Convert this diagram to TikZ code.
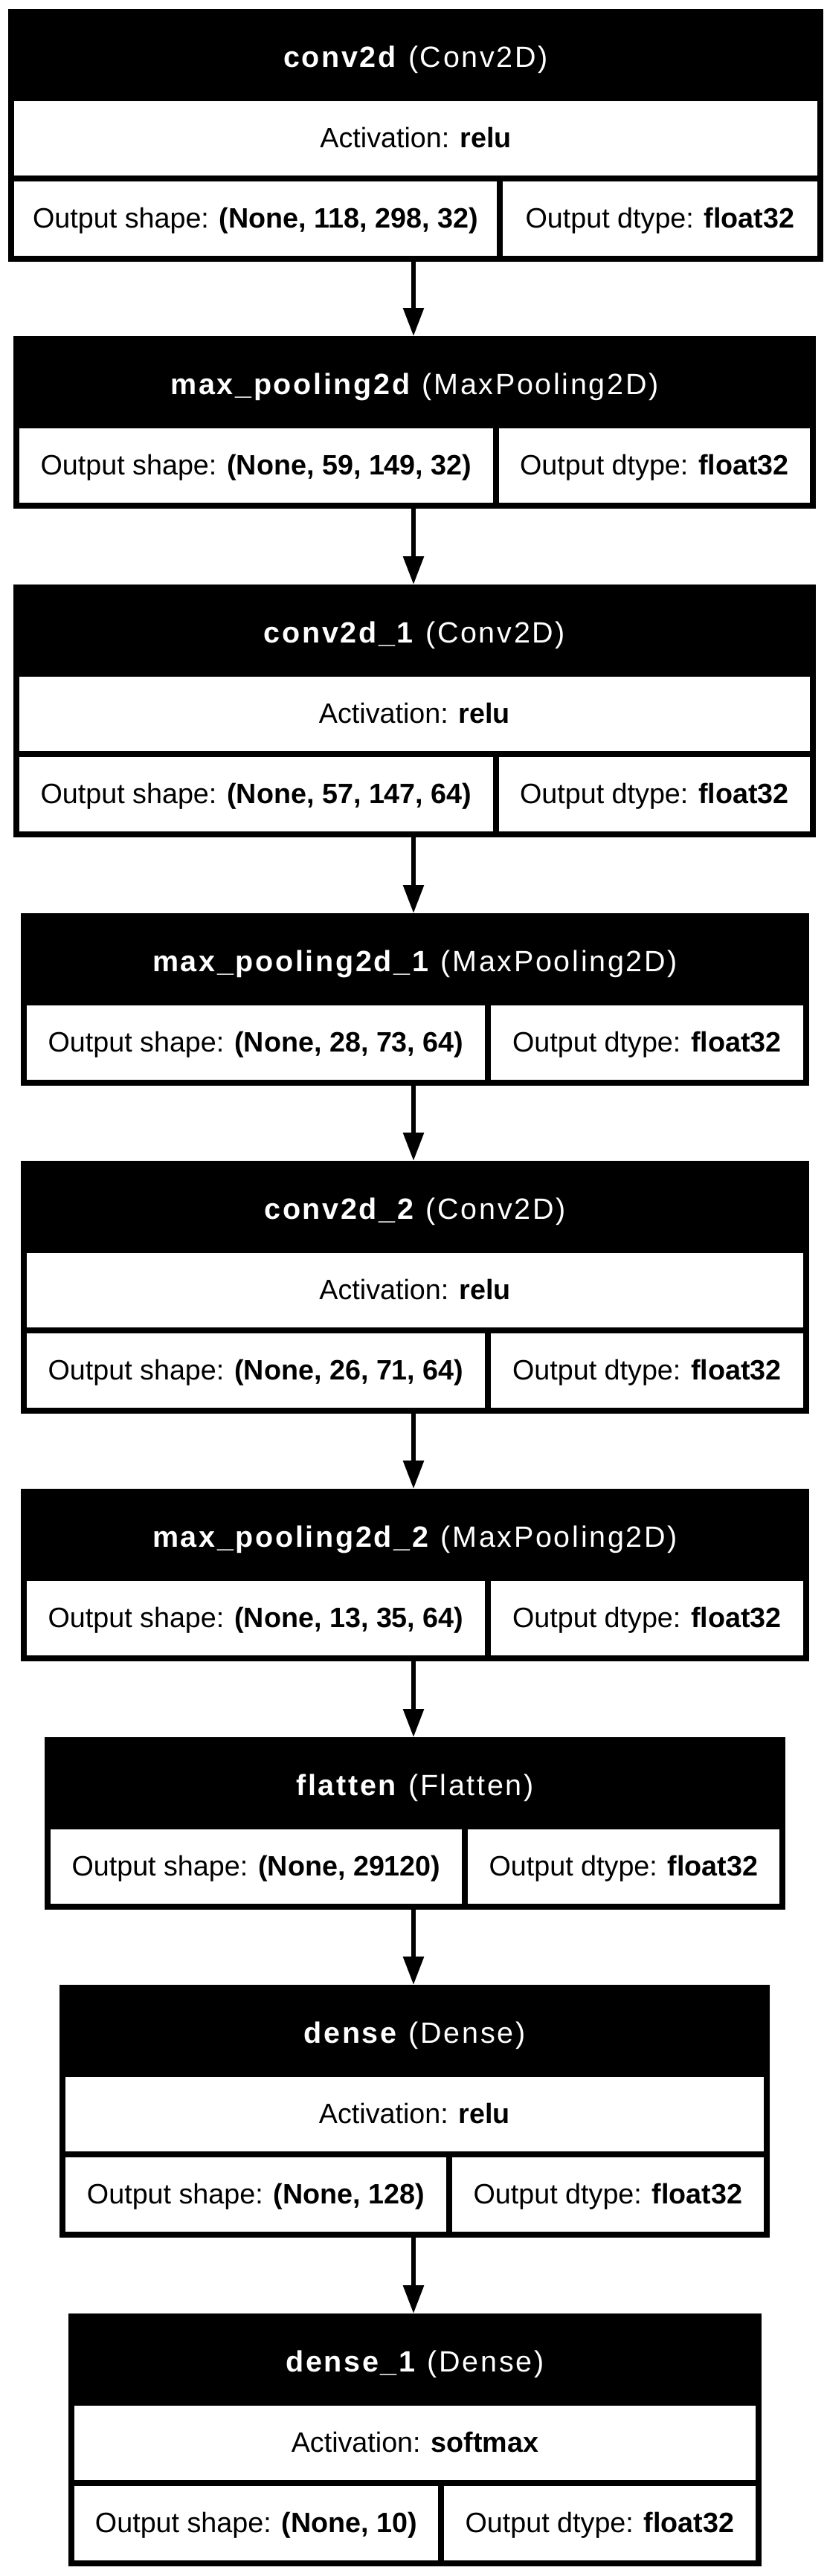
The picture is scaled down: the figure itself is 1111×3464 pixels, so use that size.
\documentclass[tikz,border=0pt]{standalone}
\usepackage{fontspec}
\setmainfont{Liberation Sans}
\newfontfamily\hdrfont[LetterSpace=6.8]{Liberation Sans}
\usetikzlibrary{arrows.meta,fit}
\tikzset{
  boxbg/.style={fill=black, inner sep=0pt, outer sep=0pt},
  cellbox/.style={fill=white, inner sep=0pt, outer sep=0pt},
  txt/.style={anchor=base, inner sep=0pt, text=black, font=\fontsize{37.7}{45}\selectfont},
  hdr/.style={anchor=base, inner sep=0pt, text=white, font=\hdrfont\fontsize{39.5}{47}\selectfont},
  flow/.style={line width=6pt, -{Triangle[width=27pt,length=38pt]}},
}
% three-row layer: name, L, R, T, D, header, activation, shape
\newcommand\LThree[8]{%
  \node[boxbg, fit={({#2},{#4}) ({#3},{#4+340})}] (#1) {};
  \node[cellbox, fit={({#2+8},{#4+124}) ({#3-8},{#4+224})}] (#1a) {};
  \node[cellbox, fit={({#2+8},{#4+232}) ({#5},{#4+332})}] (#1s) {};
  \node[cellbox, fit={({#5+8},{#4+232}) ({#3-8},{#4+332})}] (#1d) {};
  \node[hdr] (#1t) at ({(#2+#3)/2},{#4+78}) {#6};
  \node[txt] (#1at) at ({(#2+#3)/2},{#4+186}) {Activation: \textbf{#7}};
  \node[txt] (#1st) at ({(#2+8+#5)/2},{#4+294}) {Output shape: \textbf{#8}};
  \node[txt] (#1dt) at ({(#5+#3)/2},{#4+294}) {Output dtype: \textbf{float32}};
}
% two-row layer: name, L, R, T, D, header, shape
\newcommand\LTwo[7]{%
  \node[boxbg, fit={({#2},{#4}) ({#3},{#4+232})}] (#1) {};
  \node[cellbox, fit={({#2+8},{#4+124}) ({#5},{#4+224})}] (#1s) {};
  \node[cellbox, fit={({#5+8},{#4+124}) ({#3-8},{#4+224})}] (#1d) {};
  \node[hdr] (#1t) at ({(#2+#3)/2},{#4+78}) {#6};
  \node[txt] (#1st) at ({(#2+8+#5)/2},{#4+186}) {Output shape: \textbf{#7}};
  \node[txt] (#1dt) at ({(#5+#3)/2},{#4+186}) {Output dtype: \textbf{float32}};
}
\begin{document}
\begin{tikzpicture}[x=1pt,y=-1pt]
\useasboundingbox (0,0) rectangle (1111,3464);
\fill[white] (0,0) rectangle (1111,3464);
\coordinate (ax) at (556,0);
\LThree{b1}{11}{1107}{12}{668}{\textbf{conv2d} (Conv2D)}{relu}{(None, 118, 298, 32)}
\LTwo{b2}{18}{1097}{452}{663}{\textbf{max\_pooling2d} (MaxPooling2D)}{(None, 59, 149, 32)}
\LThree{b3}{18}{1097}{786}{663}{\textbf{conv2d\_1} (Conv2D)}{relu}{(None, 57, 147, 64)}
\LTwo{b4}{28}{1088}{1228}{652}{\textbf{max\_pooling2d\_1} (MaxPooling2D)}{(None, 28, 73, 64)}
\LThree{b5}{28}{1088}{1561}{652}{\textbf{conv2d\_2} (Conv2D)}{relu}{(None, 26, 71, 64)}
\LTwo{b6}{28}{1088}{2002}{652}{\textbf{max\_pooling2d\_2} (MaxPooling2D)}{(None, 13, 35, 64)}
\LTwo{b7}{60}{1056}{2336}{621}{\textbf{flatten} (Flatten)}{(None, 29120)}
\LThree{b8}{80}{1035}{2669}{600}{\textbf{dense} (Dense)}{relu}{(None, 128)}
\LThree{b9}{92}{1024}{3111}{589}{\textbf{dense\_1} (Dense)}{softmax}{(None, 10)}
\foreach \i/\j in {b1/b2,b2/b3,b3/b4,b4/b5,b5/b6,b6/b7,b7/b8,b8/b9}
  \draw[flow] (\i.south -| ax) -- (\j.north -| ax);
\end{tikzpicture}
\end{document}
